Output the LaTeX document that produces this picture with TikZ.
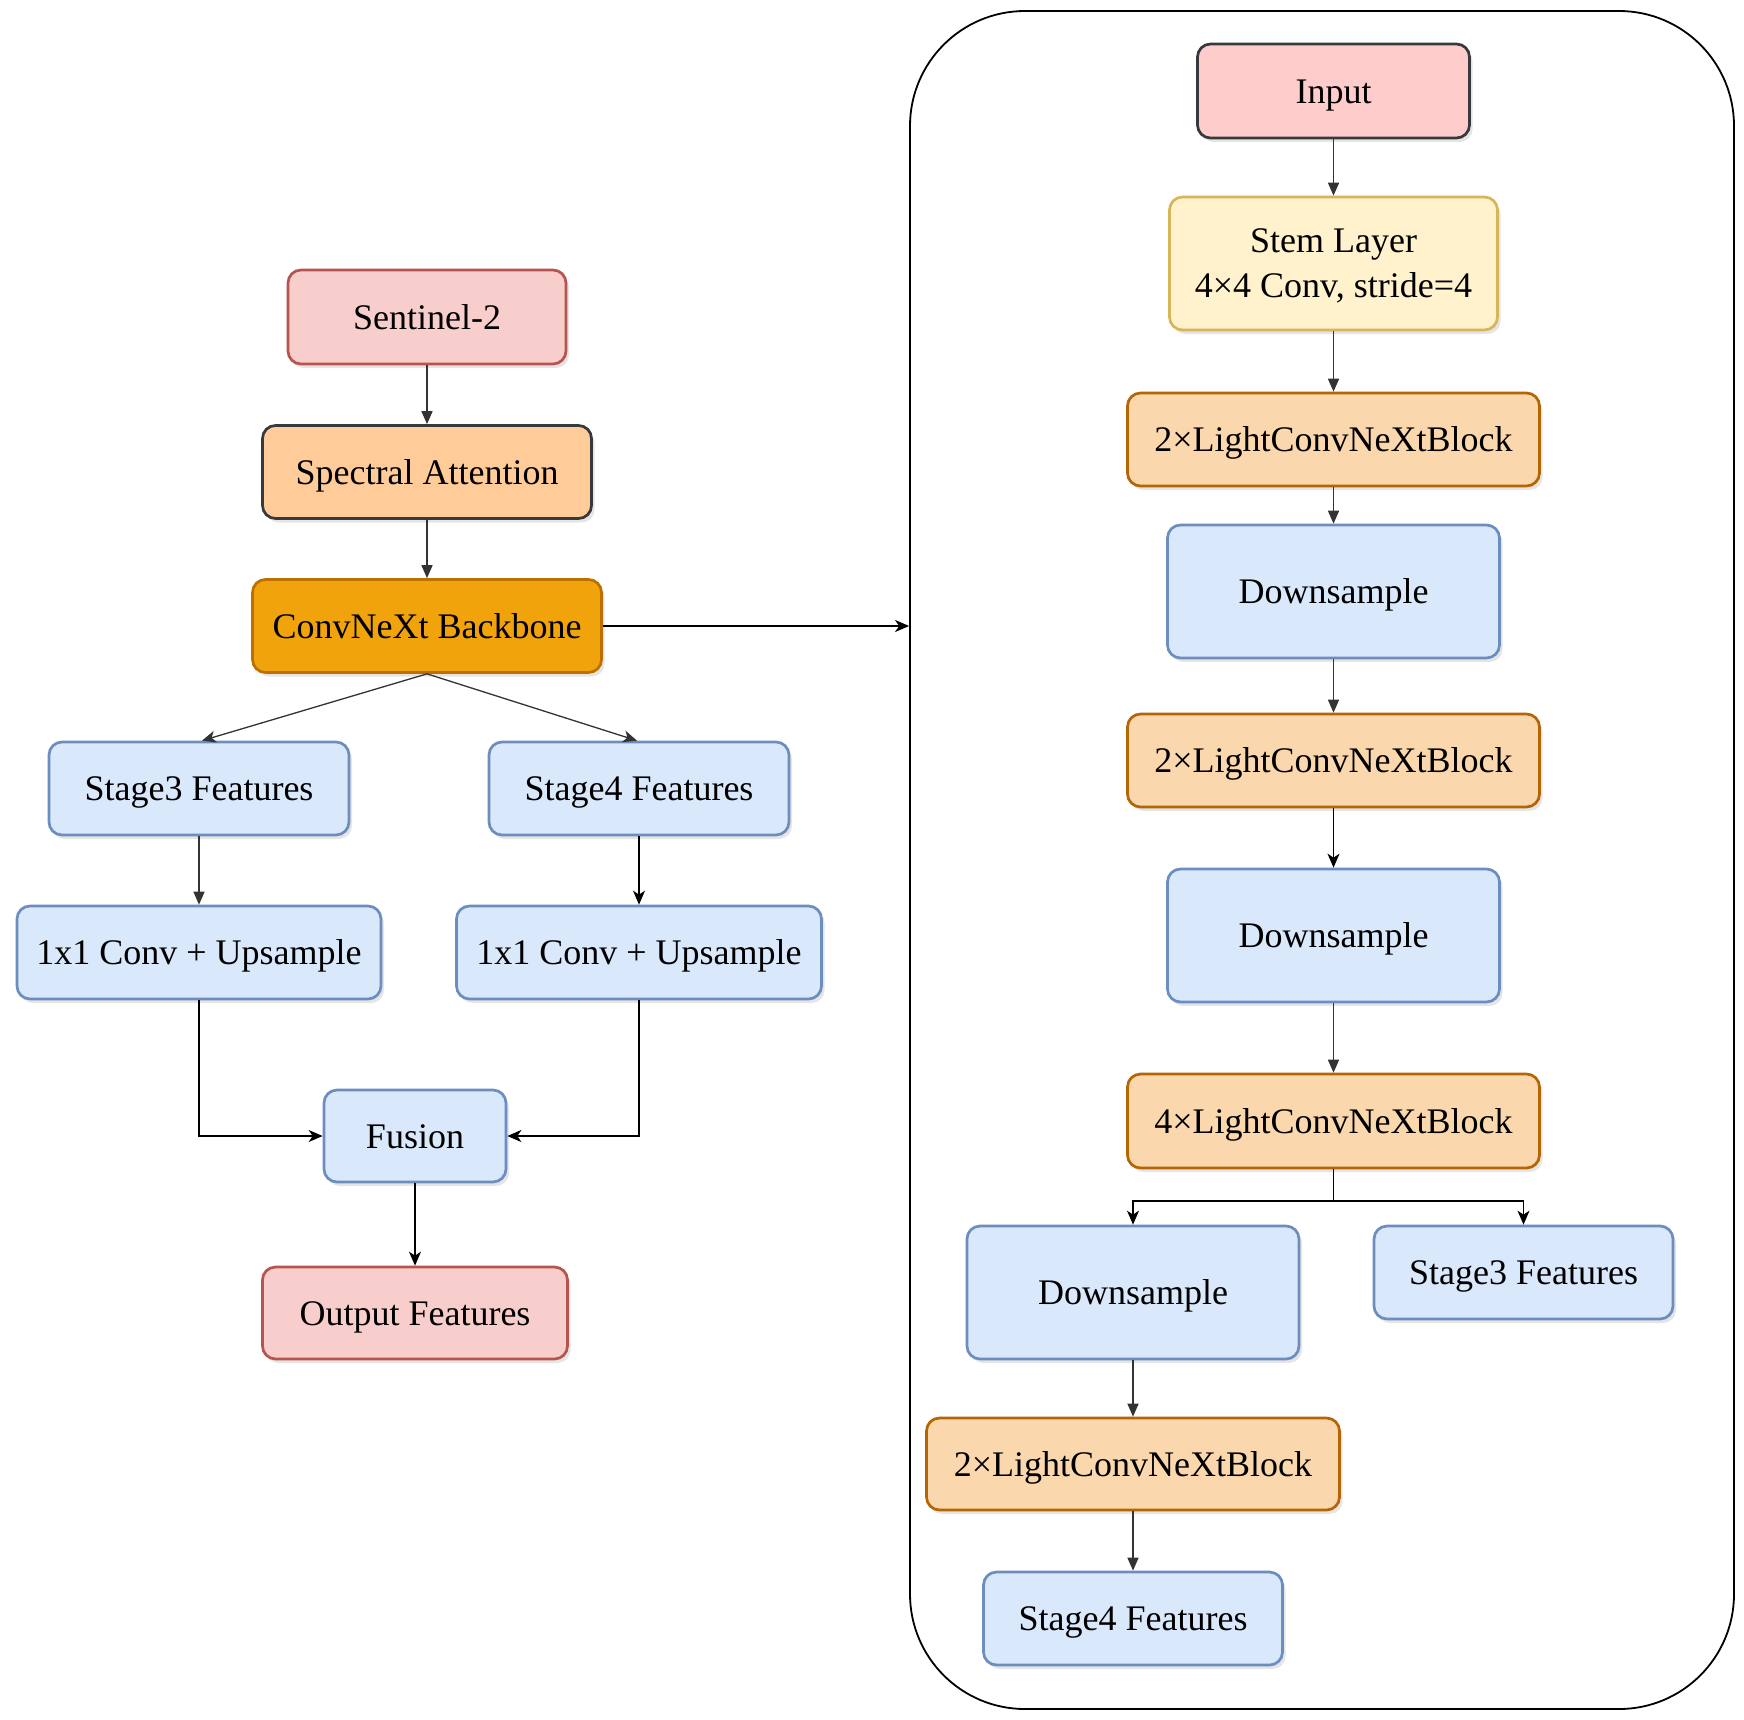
\documentclass[tikz,border=0pt]{standalone}
\usepackage{fontspec}
\setmainfont{Liberation Serif}
\usetikzlibrary{arrows.meta,shadows}
\definecolor{pinkF}{HTML}{F8CECC}
\definecolor{pinkD}{HTML}{B85450}
\definecolor{inF}{HTML}{FFCCCC}
\definecolor{darkD}{HTML}{36393D}
\definecolor{specF}{HTML}{FFCC99}
\definecolor{convF}{HTML}{F0A30A}
\definecolor{convD}{HTML}{BD7000}
\definecolor{blueF}{HTML}{DAE8FC}
\definecolor{blueD}{HTML}{6C8EBF}
\definecolor{stemF}{HTML}{FFF2CC}
\definecolor{stemD}{HTML}{D6B656}
\definecolor{lcF}{HTML}{FAD7AC}
\definecolor{lcD}{HTML}{B46504}
\definecolor{arrC}{HTML}{333333}
\begin{document}
\begin{tikzpicture}[x=1pt,y=-1pt,
  box/.style={rounded corners=13pt, line width=2.7pt, inner sep=0pt, align=center,
    font=\fontsize{36}{45.6}\selectfont, text height=26pt, text depth=2pt,
    drop shadow={shadow xshift=3pt,shadow yshift=-4pt,opacity=0.2}},
  pinkbox/.style={box, fill=pinkF, draw=pinkD},
  inbox/.style={box, fill=inF, draw=darkD},
  specbox/.style={box, fill=specF, draw=darkD},
  convbox/.style={box, fill=convF, draw=convD},
  bluebox/.style={box, fill=blueF, draw=blueD},
  stembox/.style={box, fill=stemF, draw=stemD, text height=70.4pt, text depth=2pt},
  lcbox/.style={box, fill=lcF, draw=lcD},
  arr/.style={line width=1.6pt, draw=arrC, -{Triangle[length=13pt,width=11pt]}},
  carr/.style={line width=1.8pt, draw=black, -{Stealth[length=14pt,width=12pt,inset=4pt]}},
  plain/.style={line width=1.8pt, draw=black}
]
\useasboundingbox (0,0) rectangle (1744,1719);
\fill[white] (0,0) rectangle (1744,1719);

% right panel
\node[draw=black, line width=1.8pt, rounded corners=115pt, minimum width=824pt, minimum height=1698pt, inner sep=0pt] (panel) at (1322,860) {};

% left column
\node[pinkbox, minimum width=278pt, minimum height=94pt] (sen) at (427,317) {Sentinel-2};
\node[specbox, minimum width=329pt, minimum height=93pt] (spec) at (427,472) {Spectral Attention};
\node[convbox, minimum width=349pt, minimum height=93pt] (conv) at (427,626) {ConvNeXt Backbone};
\node[bluebox, minimum width=300pt, minimum height=93pt] (s3L) at (199,788.5) {Stage3 Features};
\node[bluebox, minimum width=300pt, minimum height=93pt] (s4L) at (639,788.5) {Stage4 Features};
\node[bluebox, minimum width=364pt, minimum height=93pt] (c1L) at (199,952.5) {1x1 Conv + Upsample};
\node[bluebox, minimum width=365pt, minimum height=93pt] (c1R) at (639,952.5) {1x1 Conv + Upsample};
\node[bluebox, minimum width=182pt, minimum height=92pt] (fus) at (415,1136) {Fusion};
\node[pinkbox, minimum width=305pt, minimum height=92pt] (out) at (415,1313) {Output Features};

% right column
\node[inbox, minimum width=272pt, minimum height=94pt] (inp) at (1333.5,91) {Input};
\node[stembox, minimum width=328pt, minimum height=133pt] (stem) at (1333.5,263.5) {Stem Layer\\4×4 Conv, stride=4};
\node[lcbox, minimum width=412pt, minimum height=93pt] (b1) at (1333.5,439.5) {2×LightConvNeXtBlock};
\node[bluebox, minimum width=332pt, minimum height=133pt] (d1) at (1333.5,591.5) {Downsample};
\node[lcbox, minimum width=412pt, minimum height=93pt] (b2) at (1333.5,760.5) {2×LightConvNeXtBlock};
\node[bluebox, minimum width=332pt, minimum height=133pt] (d2) at (1333.5,935.5) {Downsample};
\node[lcbox, minimum width=412pt, minimum height=94pt] (b3) at (1333.5,1121) {4×LightConvNeXtBlock};
\node[bluebox, minimum width=332pt, minimum height=133pt] (d3) at (1133,1292.5) {Downsample};
\node[bluebox, minimum width=299pt, minimum height=93pt] (s3R) at (1523.5,1272.5) {Stage3 Features};
\node[lcbox, minimum width=413pt, minimum height=92pt] (b4) at (1133,1464) {2×LightConvNeXtBlock};
\node[bluebox, minimum width=299pt, minimum height=93pt] (s4R) at (1133,1618.5) {Stage4 Features};

% left connectors
\draw[arr] (sen.south) -- (spec.north);
\draw[arr] (spec.south) -- (conv.north);
\draw[carr, line width=1.3pt, draw=arrC] (conv.south) -- ([xshift=3pt]s3L.north);
\draw[carr, line width=1.3pt, draw=arrC] (conv.south) -- ([xshift=-2pt]s4L.north);
\draw[arr] (s3L.south) -- (c1L.north);
\draw[carr] (s4L.south) -- (c1R.north);
\draw[carr] (c1L.south) |- (fus.west);
\draw[carr] (c1R.south) |- (fus.east);
\draw[carr] (fus.south) -- (out.north);
\draw[carr] (conv.east) -- (conv.east -| panel.west);

% right connectors
\draw[arr] (inp.south) -- (stem.north);
\draw[arr] (stem.south) -- (b1.north);
\draw[arr] (b1.south) -- (d1.north);
\draw[arr] (d1.south) -- (b2.north);
\draw[carr] (b2.south) -- (d2.north);
\draw[arr] (d2.south) -- (b3.north);
\coordinate (br) at (1333.5,1201);
\draw[plain] (b3.south) -- (br);
\draw[carr] (br) -| (d3.north);
\draw[carr] (br) -| (s3R.north);
\draw[arr] (d3.south) -- (b4.north);
\draw[arr] (b4.south) -- (s4R.north);
\end{tikzpicture}
\end{document}
